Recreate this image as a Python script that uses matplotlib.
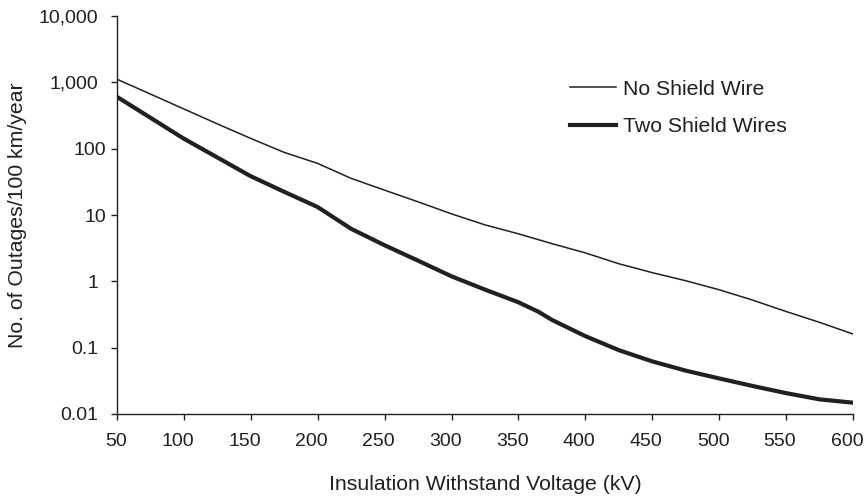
import matplotlib
matplotlib.use("Agg")
import matplotlib.pyplot as plt
import matplotlib.transforms as mtransforms

# ---- data ----
x_no_shield = [50, 75, 100, 125, 150, 175, 200, 225, 250, 275, 300, 325, 350,
               375, 400, 425, 450, 475, 500, 525, 550, 575, 600]
y_no_shield = [1120, 668, 398, 237, 143, 88, 60, 35.7, 23.7, 15.8, 10.4, 7.1, 5.2,
               3.7, 2.68, 1.84, 1.35, 1.02, 0.745, 0.52, 0.35, 0.24, 0.16]

x_two_shield = [50, 75, 100, 125, 150, 175, 200, 225, 250, 275, 300, 325, 350,
                365, 375, 400, 425, 450, 475, 500, 525, 550, 575, 600]
y_two_shield = [608, 294, 142, 74, 38.5, 22.4, 13.2, 6.2, 3.5, 2.05, 1.19, 0.75, 0.483,
                0.347, 0.262, 0.149, 0.0916, 0.062, 0.045, 0.0343, 0.0264, 0.0206, 0.0166, 0.0148]

series_labels = ["No Shield Wire", "Two Shield Wires"]
x_ticks = [50, 100, 150, 200, 250, 300, 350, 400, 450, 500, 550, 600]
y_ticks = [0.01, 0.1, 1, 10, 100, 1000, 10000]
y_tick_labels = ["0.01", "0.1", "1", "10", "100", "1,000", "10,000"]
x_label = "Insulation Withstand Voltage (kV)"
y_label = "No. of Outages/100 km/year"

# ---- style ----
ink = "#231f20"
plt.rcParams["font.family"] = ["Liberation Sans", "DejaVu Sans"]
plt.rcParams["font.size"] = 14

fig = plt.figure(figsize=(8.67, 5.0), dpi=100)
ax = fig.add_axes([116.7 / 867, 1 - 414 / 500, (853.3 - 116.7) / 867, (414 - 16) / 500])

ax.plot(x_no_shield, y_no_shield, color=ink, lw=1.1, label=series_labels[0],
        solid_joinstyle="round")
ax.plot(x_two_shield, y_two_shield, color=ink, lw=3.0, label=series_labels[1],
        solid_joinstyle="round")

ax.set_yscale("log")
ax.set_xlim(50, 600)
ax.set_ylim(0.01, 10000)
ax.set_xticks(x_ticks)
ax.set_xticklabels([str(v) for v in x_ticks])
ax.set_yticks(y_ticks)
ax.set_yticklabels(y_tick_labels)
ax.yaxis.set_minor_locator(matplotlib.ticker.NullLocator())
ax.xaxis.set_minor_locator(matplotlib.ticker.NullLocator())

for s in ["top", "right"]:
    ax.spines[s].set_visible(False)
for s in ["left", "bottom"]:
    ax.spines[s].set_color(ink)
    ax.spines[s].set_linewidth(1.0)

ax.tick_params(axis="both", direction="out", length=4.5, width=1.0, color=ink,
               labelcolor=ink, labelsize=14)
ax.tick_params(axis="y", pad=9)
ax.tick_params(axis="x", pad=9)

# x tick labels: right-aligned slightly past the tick (as in the reference)
xoff = mtransforms.ScaledTranslation(10 / 100, 0, fig.dpi_scale_trans)
for lab in ax.get_xticklabels():
    lab.set_ha("right")
    lab.set_transform(lab.get_transform() + xoff)
# "10" and "100" sit a little closer to the axis in the reference
yoff = mtransforms.ScaledTranslation(8 / 100, 0, fig.dpi_scale_trans)
for lab in ax.get_yticklabels():
    if lab.get_text() in ("10", "100"):
        lab.set_transform(lab.get_transform() + yoff)

ax.set_xlabel(x_label, color=ink, fontsize=15.3)
ax.xaxis.set_label_coords(0.5, -0.178)
ax.xaxis.label.set_va("center")
ax.set_ylabel(y_label, color=ink, fontsize=15.3)
ax.yaxis.set_label_coords((17 - 116.7) / 736.6, 0.5)
ax.yaxis.label.set_va("center")

leg = ax.legend(loc="center left", bbox_to_anchor=((570 - 116.7) / 736.6, (414 - 108) / 398),
                frameon=False, handlelength=2.16, handletextpad=0.33, labelspacing=0.89,
                borderpad=0, borderaxespad=0, fontsize=15.3)
for t in leg.get_texts():
    t.set_color(ink)

fig.savefig("out.png", dpi=100, facecolor="white")
